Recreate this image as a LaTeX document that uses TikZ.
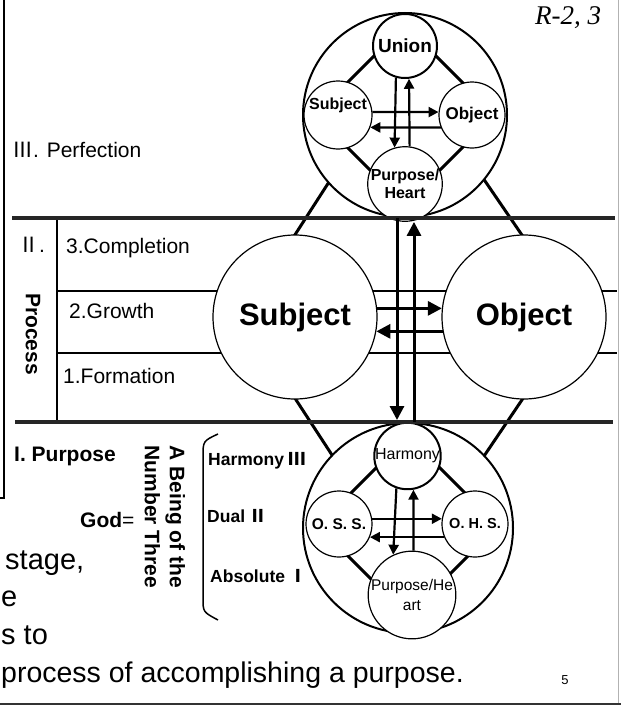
\documentclass[tikz,border=0pt]{standalone}
\usepackage{fontspec}
\setmainfont{Liberation Sans}
\newfontfamily\tnr{Liberation Serif}
\newfontfamily\cjk{Noto Sans CJK JP}
\usetikzlibrary{arrows.meta,calc}
\newcommand\setfs[2]{\fontsize{#1}{#2}\selectfont}
\newcommand\rmn[1]{{\cjk #1}}

\begin{document}
\begin{tikzpicture}[x=1pt,y=-1pt,
    ring/.style={circle,draw,fill=white,inner sep=0pt,minimum size=#1},
    slim/.style={line width=2pt},
    rim/.style={line width=3pt,line join=round},
    bar/.style={line width=4.5pt,black!85},
    arr/.style={line width=2.2pt,-{Triangle[length=10pt,width=10pt]}},
    bigarr/.style={line width=3pt,-{Triangle[length=14pt,width=14pt]}},
    lbl/.style={anchor=base west,inner sep=0pt}]
    \useasboundingbox (0,0) rectangle (621,712);
    \clip (0,0) rectangle (621,712);

    % slide frame
    \draw[line width=1.3pt] (0,498) -- (4,498) -- (4,0);
    \draw[gray!60,line width=0.8pt] (618,0) -- (618,704);
    \draw[line width=1.5pt,black!80] (0,704) -- (621,704);
    \node[font=\setfs{27}{32}\tnr\itshape] (ref) at (568,18) {R-2, 3};

    % process rows
    \draw[line width=1.3pt] (57,218) -- (57,422);
    \draw[slim] (57,291) -- (617,291);
    \draw[slim] (57,353) -- (617,353);

    % outer diamond
    \coordinate (dT) at (405,64);
    \coordinate (dL) at (242,317);
    \coordinate (dB) at (407,570);
    \coordinate (dR) at (578,317);
    \draw[rim] (dT) -- (dL) -- (dB) -- (dR) -- cycle;

    % big circles
    \node[ring=204pt,line width=2pt] (top) at (405,115) {};
    \node[ring=210pt,line width=2pt] (bot) at (408,528) {};
    \node[ring=164pt,line width=1.2pt,font=\setfs{31}{36}\bfseries] (msub) at (295,317) {Subject};
    \node[ring=164pt,line width=1.2pt,font=\setfs{31}{36}\bfseries] (mobj) at (524,317) {Object};

    % perfection: four positions
    \draw[rim] (405,25) -- (315,115) -- (405,205) -- (495,115) -- cycle;
    \node[ring=64pt,line width=2pt,font=\setfs{19}{22}\bfseries] (tuni) at (405,46) {Union};
    \node[ring=68pt,line width=1.2pt,label={[font=\setfs{16}{19}\bfseries,yshift=10pt]center:Subject}] (tsub) at (338,115) {};
    \node[ring=66pt,line width=1.2pt,font=\setfs{17}{20}\bfseries] (tobj) at (472,115) {Object};
    \node[ring=64pt,line width=1.2pt,align=center,font=\setfs{16}{18}\bfseries] (tpur) at (405,184) {Purpose/\\Heart};
    \draw[arr] (tsub.5) -- (tobj.175);
    \draw[arr] (tobj.202) -- (tsub.-21);
    \draw[arr] (tuni.254) -- (tpur.106);
    \draw[arr] (tpur.83) -- (tuni.277);

    % purpose: four positions
    \draw[rim] (408,436) -- (318,526) -- (408,616) -- (498,526) -- cycle;
    \node[ring=65pt,line width=2pt,font=\setfs{16}{19}] (bhar) at (407.5,456) {Harmony};
    \node[ring=66pt,line width=1.2pt,font=\setfs{15.5}{18}\bfseries] (boss) at (339,524) {O. S. S.};
    \node[ring=66pt,line width=1.2pt,font=\setfs{14.5}{17}\bfseries] (bohs) at (475,524) {O. H. S.};
    \node[ring=70pt,line width=1.2pt,align=center,font=\setfs{15.5}{20}] (bpur) at (412,595) {Purpose/He\\art};
    \draw[arr] (boss.9) -- (bohs.171);
    \draw[arr] (bohs.203) -- (boss.-23);
    \draw[arr] (bhar.251) -- (bpur.115);
    \draw[arr] (bpur.88) -- (bhar.280);

    % stage bars
    \draw[bar] (12,218) -- (615,218);
    \draw[bar] (15,422) -- (613,422);

    % give and take in the growing stage
    \draw[bigarr] (msub.6) -- (mobj.174);
    \draw[bigarr] (mobj.190) -- (msub.-10);
    \coordinate (dn1) at (397,218);
    \coordinate (dn2) at (397,420);
    \coordinate (up1) at (414,422);
    \draw[bigarr] (dn1) -- (dn2);
    \draw[bigarr] (up1) -- (up1 |- tpur.south);

    % stage labels
    \node[lbl,font=\setfs{21}{25}] (perf) at (12,157) {\rmn{Ⅲ}. Perfection};
    \node[lbl,font=\setfs{21}{25}] (proc2) at (18,252) {\rmn{Ⅱ}.};
    \node[rotate=-90,font=\setfs{21}{25}\bfseries] (proc) at (33,334) {Process};
    \node[lbl,font=\setfs{21}{25}] (compl) at (66,253) {3.Completion};
    \node[lbl,font=\setfs{21}{25}] (grow) at (69,318) {2.Growth};
    \node[lbl,font=\setfs{21}{25}] (form) at (63,383) {1.Formation};
    \node[lbl,font=\setfs{21}{25}\bfseries] (purp) at (14,461) {I. Purpose};

    % God as a being of the number three
    \node[lbl,font=\setfs{21}{25}\bfseries] (god) at (80,527) {God{\mdseries=}};
    \node[rotate=-90,align=left,font=\setfs{21}{25}\bfseries] (being) at (165,517) {A Being of the\\Number Three};
    \draw[line width=1.5pt] (218,434) .. controls (203,441) .. (203,457) -- (203,598)
        .. controls (203,612) .. (218,620);
    \node[lbl,font=\setfs{17.5}{21}\bfseries] (harm) at (208,465) {Harmony \rmn{Ⅲ}};
    \node[lbl,font=\setfs{17.5}{21}\bfseries] (dual) at (207,522) {Dual \rmn{Ⅱ}};
    \node[lbl,font=\setfs{17.5}{21}\bfseries] (abso) at (210,582) {Absolute \rmn{Ⅰ}};

    % text of the slide
    \node[lbl,font=\setfs{29}{34}] (ln1) at (5,569) {stage,};
    \node[lbl,font=\setfs{29}{34}] (ln2) at (1,606) {e};
    \node[lbl,font=\setfs{29}{34}] (ln3) at (1,644) {s to};
    \node[lbl,font=\setfs{28.5}{34}] (ln4) at (1,682) {process of accomplishing a purpose.};
    \node[font=\setfs{13}{15}] (page) at (565,680) {5};
\end{tikzpicture}
\end{document}
